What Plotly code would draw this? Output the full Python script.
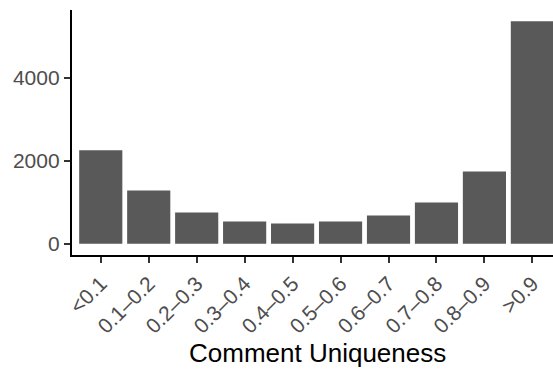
import plotly.graph_objects as go

categories = ["<0.1", "0.1–0.2", "0.2–0.3", "0.3–0.4", "0.4–0.5",
              "0.5–0.6", "0.6–0.7", "0.7–0.8", "0.8–0.9", ">0.9"]
counts = [2250, 1285, 755, 538, 490, 538, 682, 995, 1743, 5358]
y_ticks = [0, 2000, 4000]
x_title = "Comment Uniqueness"

FONT = "Liberation Sans, Arial, Helvetica, sans-serif"

W, H = 553, 370
L, R, T, B = 72, 0, 10, 115
plot_w = W - L - R
plot_h = H - T - B

fig = go.Figure(go.Bar(x=categories, y=counts, marker=dict(color="#595959", line=dict(width=0)),
                       width=0.9, hoverinfo="skip"))

ymax = max(counts)
pad = ymax * 0.05
# panel extends slightly beyond the visible right edge (cropped), as in the reference
x_lo, x_hi = -0.6, len(categories) - 0.4 - 0.17

def px_to_xpaper(px):
    return (px - L) / plot_w

def px_to_ypaper(py):
    return (H - B - py) / plot_h

fig.update_layout(
    width=W, height=H,
    margin=dict(l=L, r=R, t=T, b=B, autoexpand=False),
    paper_bgcolor="white", plot_bgcolor="white",
    showlegend=False,
    font=dict(family=FONT),
    annotations=[dict(
        text=x_title, showarrow=False,
        xref="paper", yref="paper",
        x=px_to_xpaper(317), y=px_to_ypaper(353),
        xanchor="center", yanchor="middle",
        font=dict(size=26, color="black", family=FONT),
    )],
)
fig.update_xaxes(
    type="category", range=[x_lo, x_hi], automargin=False,
    showline=True, linecolor="black", linewidth=2.4,
    ticks="outside", ticklen=6, tickwidth=2.4, tickcolor="#333333",
    tickangle=-45, tickfont=dict(size=21, color="#4D4D4D", family=FONT),
    showgrid=False, zeroline=False,
)
fig.update_yaxes(
    range=[-pad, ymax + pad], automargin=False,
    tickvals=y_ticks, ticktext=[str(v) for v in y_ticks],
    showline=True, linecolor="black", linewidth=2.4,
    ticks="outside", ticklen=6, tickwidth=2.4, tickcolor="#333333",
    tickfont=dict(size=21, color="#4D4D4D", family=FONT),
    showgrid=False, zeroline=False,
)

fig.write_html("out.html", config={"displayModeBar": False},
               post_script="document.body.style.margin='0';document.body.style.overflow='hidden';")
